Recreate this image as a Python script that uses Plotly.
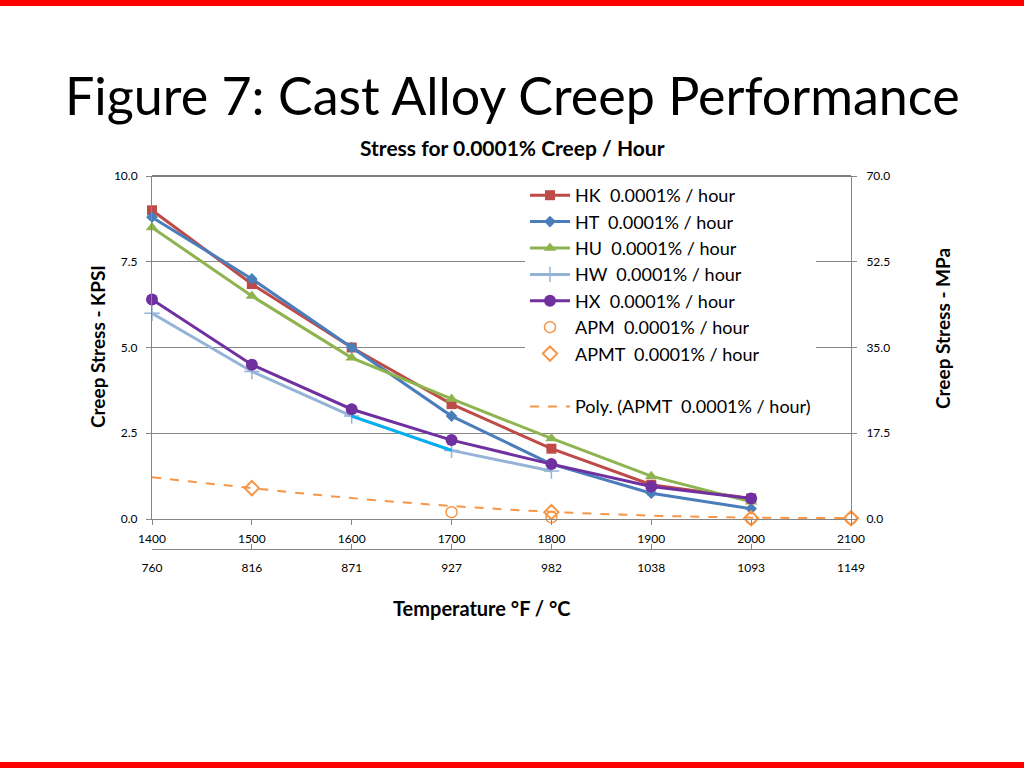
import plotly.graph_objects as go

temps_f = [1400, 1500, 1600, 1700, 1800, 1900, 2000]
hk = [9.0, 6.85, 5.0, 3.35, 2.05, 1.0, 0.6]
ht = [8.8, 7.0, 5.0, 3.0, 1.6, 0.75, 0.3]
hu = [8.5, 6.5, 4.7, 3.5, 2.35, 1.25, 0.5]
hw_x = [1400, 1500, 1600, 1700, 1800]
hw = [6.0, 4.3, 3.0, 2.0, 1.4]
hx = [6.4, 4.5, 3.2, 2.3, 1.6, 0.95, 0.6]
apm_x = [1700, 1800, 2000, 2100]
apm = [0.2, 0.05, 0.01, 0.01]
apmt_x = [1500, 1800, 2000, 2100]
apmt = [0.9, 0.2, 0.02, 0.02]
poly_x = [1400, 1500, 1600, 1700, 1800, 1900, 2000, 2100]
poly = [1.22, 0.9, 0.61, 0.38, 0.21, 0.1, 0.04, 0.03]
c_ticks_f = [1400, 1500, 1600, 1700, 1800, 1900, 2000, 2100]
c_labels = ["760", "816", "871", "927", "982", "1038", "1093", "1149"]
kpsi_ticks = [0, 2.5, 5, 7.5, 10]
mpa_ticks = [0, 17.5, 35, 52.5, 70]

FONT = "Lato"
fig = go.Figure()

def add(x, y, name, color, symbol, msize, mline=None, width=3):
    fig.add_trace(go.Scatter(x=x, y=y, name=name, mode="lines+markers", cliponaxis=False,
                             line=dict(color=color, width=width),
                             marker=dict(symbol=symbol, size=msize, color=color,
                                         line=mline or dict(width=0))))

add(temps_f, hk, "HK  0.0001% / hour", "#BE4B48", "square", 10)
add(temps_f, ht, "HT  0.0001% / hour", "#4A7EBB", "diamond", 9)
add(temps_f, hu, "HU  0.0001% / hour", "#8EB44F", "triangle-up", 11)
add(hw_x, hw, "HW  0.0001% / hour", "#95B3D7", "cross-thin", 11,
    mline=dict(width=1.5, color="#95B3D7"))
# highlighted segment of HW between 1600 and 1700
fig.add_trace(go.Scatter(x=hw_x[2:4], y=hw[2:4], mode="lines", showlegend=False,
                         line=dict(color="#00B0F0", width=3), hoverinfo="skip"))
add(temps_f, hx, "HX  0.0001% / hour", "#7030A0", "circle", 12)
fig.add_trace(go.Scatter(x=apm_x, y=apm, name="APM  0.0001% / hour", mode="markers",
                         cliponaxis=False,
                         marker=dict(symbol="circle-open", size=11, color="#F79646",
                                     line=dict(width=1.5))))
fig.add_trace(go.Scatter(x=apmt_x, y=apmt, name="APMT  0.0001% / hour", mode="markers",
                         cliponaxis=False,
                         marker=dict(symbol="diamond-open", size=11, color="#F79646",
                                     line=dict(width=2))))
fig.add_trace(go.Scatter(x=[None], y=[None], name=" ", mode="lines",
                         line=dict(width=0, color="rgba(0,0,0,0)")))
fig.add_trace(go.Scatter(x=poly_x, y=poly, name="Poly. (APMT  0.0001% / hour)",
                         mode="lines", line=dict(color="#F79646", width=2, dash="dash",
                                                  shape="spline")))
# dummy traces for secondary axes
fig.add_trace(go.Scatter(x=[1400], y=[0], xaxis="x2", yaxis="y", showlegend=False,
                         mode="markers", marker=dict(opacity=0), hoverinfo="skip"))
fig.add_trace(go.Scatter(x=[1400], y=[0], xaxis="x", yaxis="y2", showlegend=False,
                         mode="markers", marker=dict(opacity=0), hoverinfo="skip"))

xd = [152 / 1024, 851 / 1024]
yd = [1 - 519 / 768, 1 - 176 / 768]
fig.update_layout(
    width=1024, height=768, margin=dict(l=0, r=0, t=0, b=0, autoexpand=False),
    paper_bgcolor="white", plot_bgcolor="white",
    font=dict(family=FONT, color="#000000"),
    xaxis=dict(domain=xd, range=[1400, 2100], tickvals=c_ticks_f,
               ticktext=[str(v) for v in c_ticks_f], showgrid=False,
               showline=True, linecolor="#868686", linewidth=1, ticks="outside",
               ticklen=5, tickcolor="#868686", tickfont=dict(size=12), zeroline=False,
               anchor="y", automargin=False, ticklabelstandoff=4),
    xaxis2=dict(overlaying="x", range=[1400, 2100], tickvals=c_ticks_f, ticktext=c_labels,
                anchor="free", position=1 - 549 / 768, side="bottom", showgrid=False,
                showline=True, linecolor="#868686", linewidth=1, ticks="inside",
                ticklen=5, tickcolor="#868686", tickfont=dict(size=12), zeroline=False,
                automargin=False, ticklabelstandoff=8),
    yaxis=dict(domain=yd, range=[0, 10], tickvals=kpsi_ticks,
               ticktext=["%.1f" % v for v in kpsi_ticks], showgrid=True,
               gridcolor="#868686", gridwidth=1, showline=True, linecolor="#868686",
               ticks="outside", ticklen=5, tickcolor="#868686", tickfont=dict(size=12),
               zeroline=False, anchor="x", automargin=False, ticklabelstandoff=6),
    yaxis2=dict(overlaying="y", side="right", range=[0, 70], tickvals=mpa_ticks,
                ticktext=["%.1f" % v for v in mpa_ticks], showgrid=False,
                showline=True, linecolor="#868686", ticks="outside", ticklen=5,
                tickcolor="#868686", tickfont=dict(size=12), zeroline=False, anchor="x",
                automargin=False, ticklabelstandoff=7),
    legend=dict(x=525 / 1024, y=1 - 177 / 768, xanchor="left", yanchor="top",
                bgcolor="white", font=dict(size=18, family=FONT), tracegroupgap=0,
                itemwidth=40),
    showlegend=True,
)
# top border of plot area
fig.add_shape(type="line", xref="paper", yref="paper", x0=xd[0], x1=xd[1], y0=yd[1], y1=yd[1],
              line=dict(color="#000000", width=1))
# red bars at top and bottom
fig.add_shape(type="rect", xref="paper", yref="paper", x0=0, x1=1, y0=1 - 6 / 768, y1=1,
              fillcolor="#FF0000", line=dict(width=0))
fig.add_shape(type="rect", xref="paper", yref="paper", x0=0, x1=1, y0=0, y1=6 / 768,
              fillcolor="#FF0000", line=dict(width=0))

ann = [
    dict(text="Figure 7: Cast Alloy Creep Performance", x=512, y=95, size=52, bold=False, angle=0),
    dict(text="Stress for 0.0001% Creep / Hour", x=512, y=147, size=21, bold=True, angle=0),
    dict(text="Creep Stress - KPSI", x=97, y=347, size=19, bold=True, angle=-90),
    dict(text="Creep Stress - MPa", x=942, y=329, size=19, bold=True, angle=-90),
    dict(text="Temperature °F / °C", x=482, y=608, size=20, bold=True, angle=0),
]
for a in ann:
    t = "<b>%s</b>" % a["text"] if a["bold"] else a["text"]
    fig.add_annotation(text=t, x=a["x"] / 1024, y=1 - a["y"] / 768, xref="paper", yref="paper",
                       showarrow=False, xanchor="center", yanchor="middle", textangle=a["angle"],
                       font=dict(size=a["size"], family=FONT, color="#000000"))

fig.write_html("out.html", config={"displayModeBar": False},
               post_script="document.body.style.margin='0';document.body.style.overflow='hidden';")
